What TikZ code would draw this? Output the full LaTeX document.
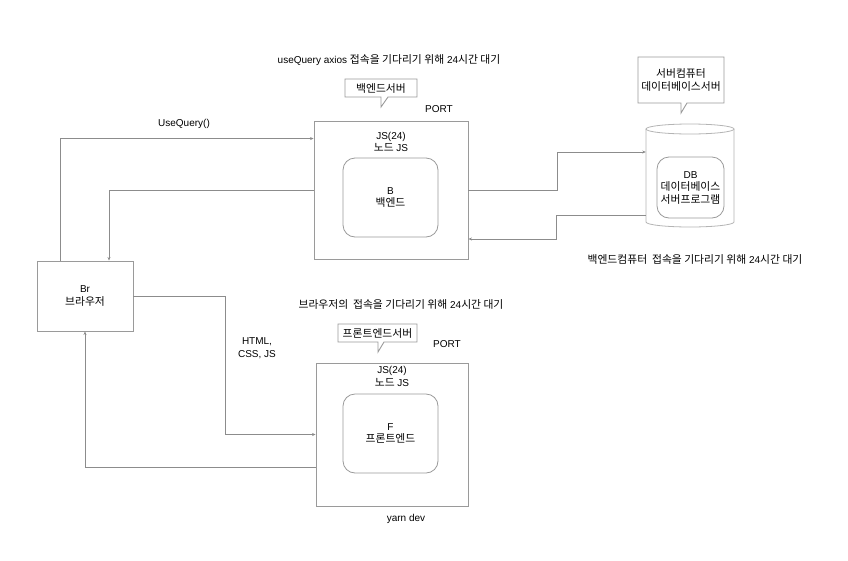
\documentclass[tikz,border=0pt]{standalone}
\usepackage{fontspec}
\setmainfont{Liberation Sans}
\newfontfamily\kr[Scale=1.08]{Noto Sans CJK KR}
\usetikzlibrary{arrows.meta}
\definecolor{ln}{HTML}{8C8C8C}
\definecolor{bx}{HTML}{9A9A9A}
\definecolor{lt}{HTML}{B4B4B4}
\begin{document}
\begin{tikzpicture}[x=1pt,y=-1pt,
  every node/.style={font=\fontsize{10}{12.5}\selectfont, align=center, inner sep=0pt},
  box/.style={draw=bx, line width=0.9pt, fill=white},
  inbox/.style={draw=bx, line width=0.8pt, rounded corners=12pt},
  arr/.style={draw=ln, line width=0.8pt, -{Stealth[length=3.5pt,width=3pt]}},
  lbl/.style={fill=none}]
\useasboundingbox (0,0) rectangle (848,560);
% backend
\node[box, minimum width=154pt, minimum height=138pt] (back) at (391,190) {};
\node[inbox, minimum width=95pt, minimum height=79pt] (backin) at (390.5,197.5) {B\\{\kr 백엔드}};
\node (backlbl) at (391,142) {JS(24)\\{\kr 노드} JS};
% frontend
\node[box, minimum width=152pt, minimum height=143pt] (front) at (392,434.5) {};
\node[inbox, minimum width=95pt, minimum height=79pt] (frontin) at (390.5,433.5) {F\\{\kr 프론트엔드}};
\node (frontlbl) at (392,376.5) {JS(24)\\{\kr 노드} JS};
\node (yarn) at (406,519) {yarn dev};
% browser
\node[box, minimum width=96pt, minimum height=70pt] (br) at (85,296) {Br\\{\kr 브라우저}};
% database cylinder
\node[minimum width=88pt, minimum height=103pt] (db) at (690,175.5) {};
\draw[lt, line width=0.8pt, fill=white] (646,129) -- (646,222) arc[start angle=180, end angle=360, x radius=44pt, y radius=5pt] -- (734,129);
\draw[lt, line width=0.8pt, fill=white] (690,129) ellipse[x radius=44pt, y radius=5pt];
\node[inbox, minimum width=67pt, minimum height=61pt] (dbin) at (690.5,187.5) {DB\\{\kr 데이터베이스}\\{\kr 서버프로그램}};
% callouts
\node (cb1) at (381,88) {\kr 백엔드서버};
\draw[box] (345,79) -- (417,79) -- (417,97) -- (388,97) -- (381,107) -- (381,97) -- (345,97) -- cycle;
\node at (cb1) {\kr 백엔드서버};
\node (cb2) at (377.5,333) {\kr 프론트엔드서버};
\draw[box] (338,324) -- (417,324) -- (417,342) -- (384,342) -- (378,352) -- (378,342) -- (338,342) -- cycle;
\node at (cb2) {\kr 프론트엔드서버};
\node (cb3) at (681,80) {{\kr 서버컴퓨터}\\{\kr 데이터베이스서버}};
\draw[box] (638,57) -- (724,57) -- (724,103) -- (687,103) -- (681,113) -- (681,103) -- (638,103) -- cycle;
\node at (cb3) {{\kr 서버컴퓨터}\\{\kr 데이터베이스서버}};
% free labels
\node (t1) at (389,60) {useQuery axios {\kr 접속을 기다리기 위해} 24{\kr 시간 대기}};
\node (port1) at (439,109) {PORT};
\node (port2) at (447,344) {PORT};
\node (t2) at (401,304) {{\kr 브라우저의\ \ 접속을 기다리기 위해} 24{\kr 시간 대기}};
\node (t3) at (695,259) {{\kr 백엔드컴퓨터\ \ 접속을 기다리기 위해} 24{\kr 시간 대기}};
\node (uq) at (184,124) {UseQuery()};
\node (html) at (257,348) {HTML,\\CSS, JS};
% connectors
\draw[arr] ([xshift=-25pt]br.north) |- ([yshift=-18pt]back.north west);
\draw[arr] (back.west) -| ([xshift=24pt]br.north);
\draw[arr] (br.east) -- ++(92,0) |- (front.west);
\draw[arr] ([yshift=-32.5pt]front.west) -| (br.south);
\draw[arr] (back.east) -- ++(89,0) |- ([yshift=23.5pt]db.west);
\draw[arr] ([yshift=-39.5pt]db.west) -- ++(-89,0) |- ([yshift=-49pt]back.east);
\end{tikzpicture}
\end{document}
